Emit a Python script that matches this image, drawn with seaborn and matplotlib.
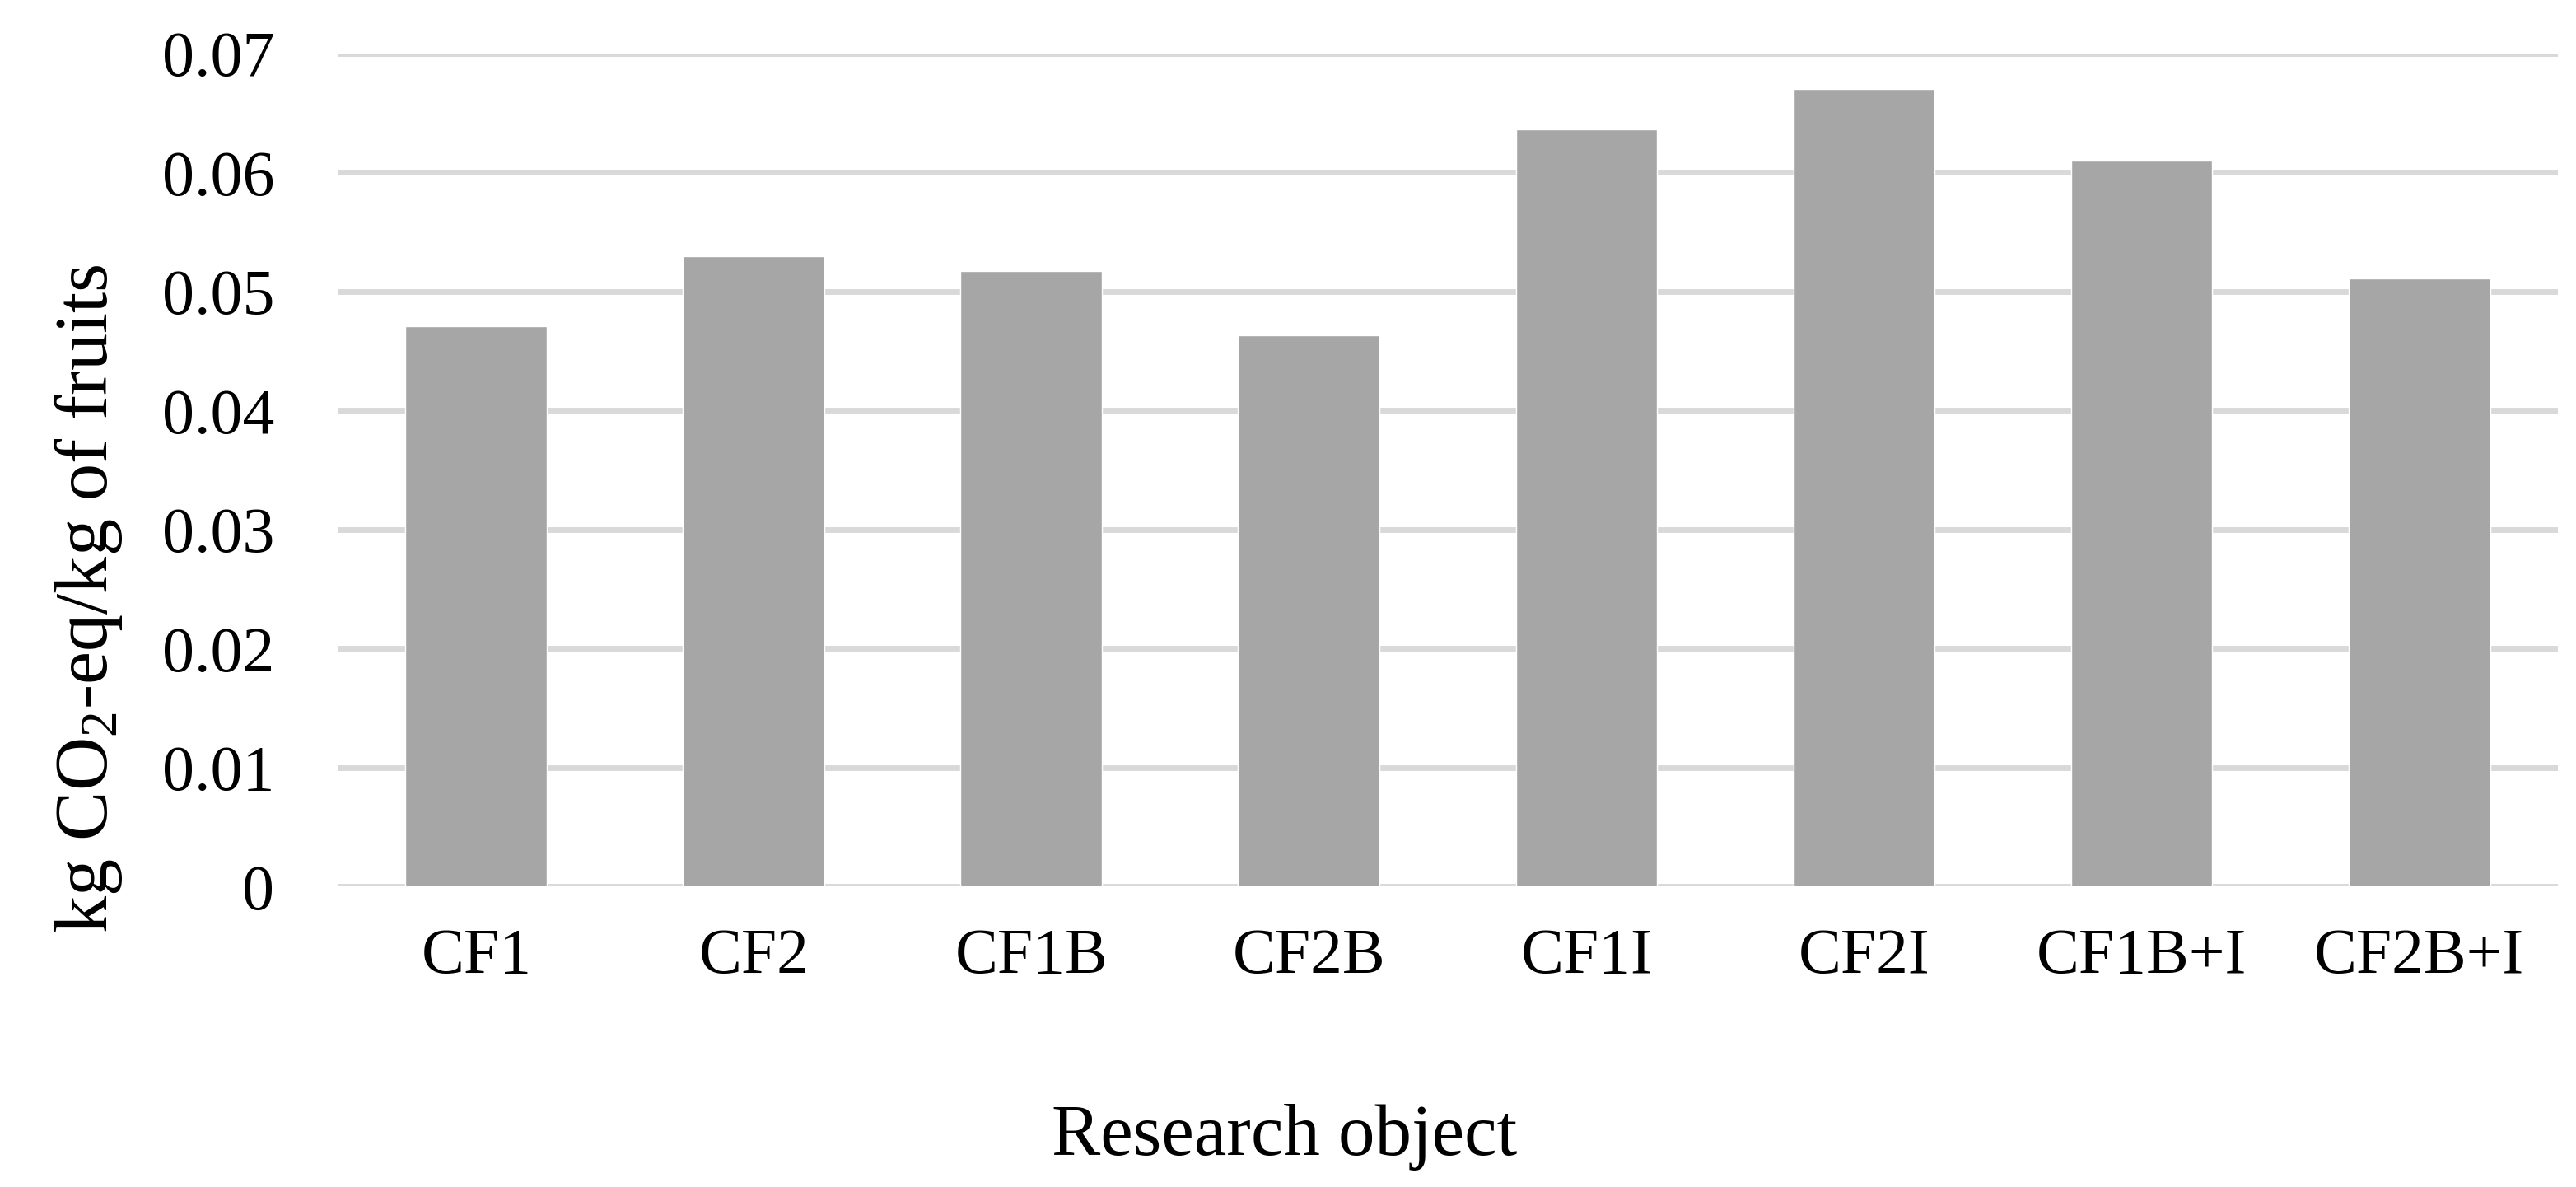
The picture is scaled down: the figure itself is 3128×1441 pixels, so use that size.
import matplotlib
matplotlib.use("Agg")
import matplotlib.pyplot as plt
import seaborn as sns
import pandas as pd

# values
objects = ["CF1", "CF2", "CF1B", "CF2B", "CF1I", "CF2I", "CF1B+I", "CF2B+I"]
co2_per_kg = [0.0471, 0.0530, 0.0517, 0.0463, 0.0636, 0.0670, 0.0610, 0.0511]
y_ticks = [0, 0.01, 0.02, 0.03, 0.04, 0.05, 0.06, 0.07]
y_tick_labels = ["0", "0.01", "0.02", "0.03", "0.04", "0.05", "0.06", "0.07"]

df = pd.DataFrame({"Research object": objects, "CO2": co2_per_kg})

sns.set_theme(style="white")
plt.rcParams['font.family'] = ['Liberation Serif', 'DejaVu Serif']
plt.rcParams['mathtext.fontset'] = 'custom'
plt.rcParams['mathtext.rm'] = 'Liberation Serif'
plt.rcParams['mathtext.it'] = 'Liberation Serif:italic'
for key in ['text.color', 'axes.labelcolor', 'xtick.color', 'ytick.color']:
    plt.rcParams[key] = 'black'

fig = plt.figure(figsize=(31.28, 14.41), dpi=100)
ax = fig.add_axes([0.131, 0.253, 0.862, 0.702])

sns.barplot(data=df, x="Research object", y="CO2", color="#a6a6a6",
            saturation=1, width=0.51, ax=ax, zorder=3)

ax.set_ylim(0, 0.07)
ax.set_yticks(y_ticks)
ax.set_yticklabels(y_tick_labels)
ax.yaxis.grid(True, color="#d9d9d9", linewidth=5, zorder=0)
ax.set_axisbelow(True)
for s in ax.spines.values():
    s.set_visible(False)

ax.tick_params(axis="y", length=0, pad=55, labelsize=56)
ax.tick_params(axis="x", length=0, pad=36, labelsize=56)

# axis titles sit off-centre in the original
ax.set_ylabel("kg CO$_2$-eq/kg of fruits", fontsize=65, labelpad=33)
ax.yaxis.label.set_y(0.3455)
ax.set_xlabel("Research object", fontsize=64, labelpad=102)
ax.xaxis.label.set_x(0.4266)

fig.savefig("out.png", dpi=100, facecolor="white")
